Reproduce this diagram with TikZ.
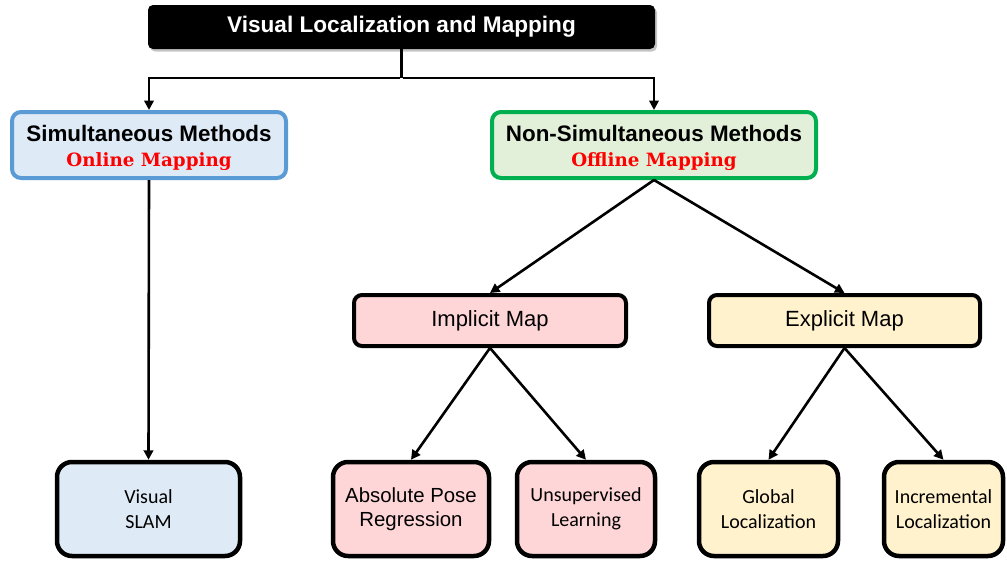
\documentclass[tikz,border=0pt]{standalone}
\usepackage{fontspec}
\setmainfont{Liberation Sans}
\newfontfamily\calib{Carlito}
\newfontfamily\slab{DejaVu Serif}
\usetikzlibrary{shadows,arrows.meta}
\definecolor{simfill}{HTML}{DEEBF7}
\definecolor{simdraw}{HTML}{5B9BD5}
\definecolor{nsfill}{HTML}{E2F0D9}
\definecolor{nsdraw}{HTML}{00B050}
\definecolor{pinkfill}{HTML}{FFD6D8}
\definecolor{yellowfill}{HTML}{FFF2CC}
\definecolor{redtext}{HTML}{FF0000}
\begin{document}
\begin{tikzpicture}[x=1pt,y=-1pt,
  titlebox/.style={fill=black, text=white, rounded corners=5pt, minimum width=507pt, minimum height=44pt,
    inner sep=0pt, font=\bfseries\fontsize{22.6}{26}\selectfont,
    drop shadow={shadow xshift=2pt, shadow yshift=-2.5pt, fill=black!45}},
  midbox/.style={draw, line width=4pt, rounded corners=9pt, minimum height=66pt, inner sep=0pt, align=center,
    font=\bfseries\fontsize{22.4}{25}\selectfont},
  mapbox/.style={draw=black, line width=4pt, rounded corners=8pt, minimum height=51pt, inner sep=0pt,
    font=\fontsize{22}{25}\selectfont},
  leafbox/.style={draw=black, line width=4.5pt, rounded corners=15pt, minimum height=94pt, inner sep=0pt, align=center},
  link/.style={line width=2.6pt},
  conn/.style={line width=2.6pt, -{Triangle[length=9.5pt,width=9.5pt]}}
]
\useasboundingbox (0,0) rectangle (1007,563);

\node[titlebox] (top) at (401.5,27) {Visual Localization and Mapping};

\node[midbox, fill=simfill, draw=simdraw, minimum width=274pt] (sim) at (149,145)
  {\raisebox{0pt}[22pt][0pt]{Simultaneous Methods}\\[0.5pt]{\slab\fontsize{18.3}{20}\selectfont\color{redtext}Online Mapping}};
\node[midbox, fill=nsfill, draw=nsdraw, minimum width=324pt] (ns) at (654,145)
  {\raisebox{0pt}[22pt][0pt]{Non-Simultaneous Methods}\\[0.5pt]{\slab\fontsize{18.3}{20}\selectfont\color{redtext}Offline Mapping}};

\node[mapbox, fill=pinkfill, minimum width=272pt] (imp) at (490,320.5) {Implicit Map};
\node[mapbox, fill=yellowfill, minimum width=271pt] (exp) at (844.5,320.5) {Explicit Map};

\node[leafbox, fill=simfill, minimum width=183pt, font=\calib\fontsize{20}{24.5}\selectfont] (vs) at (148.5,509) {Visual\\SLAM};
\node[leafbox, fill=pinkfill, minimum width=156pt, font=\fontsize{20.4}{24.5}\selectfont] (apr) at (411,509) {Absolute Pose\\Regression};
\node[leafbox, fill=pinkfill, minimum width=138pt, font=\calib\fontsize{20}{24.5}\selectfont] (uns) at (586,509) {Unsupervised\\Learning};
\node[leafbox, fill=yellowfill, minimum width=139pt, font=\calib\fontsize{20}{24.5}\selectfont] (glo) at (768.5,509) {Global\\Localization};
\node[leafbox, fill=yellowfill, minimum width=119pt, font=\calib\fontsize{20}{24.5}\selectfont] (inc) at (943.5,509) {Incremental\\Localization};

\coordinate (j) at (401.5,78);
\draw[link] (top.south) -- (j);
\draw[conn] ([xshift=-1.3pt]j) -| (sim.north);
\draw[conn] ([xshift=1.3pt]j) -| (ns.north);
\draw[conn] (sim.south) -- (vs.north);
\draw[conn] (ns.south) -- (imp.north);
\draw[conn] (ns.south) -- (exp.north);
\draw[conn] (imp.south) -- (apr.north);
\draw[conn] (imp.south) -- (uns.north);
\draw[conn] (exp.south) -- (glo.north);
\draw[conn] (exp.south) -- (inc.north);
\end{tikzpicture}
\end{document}
